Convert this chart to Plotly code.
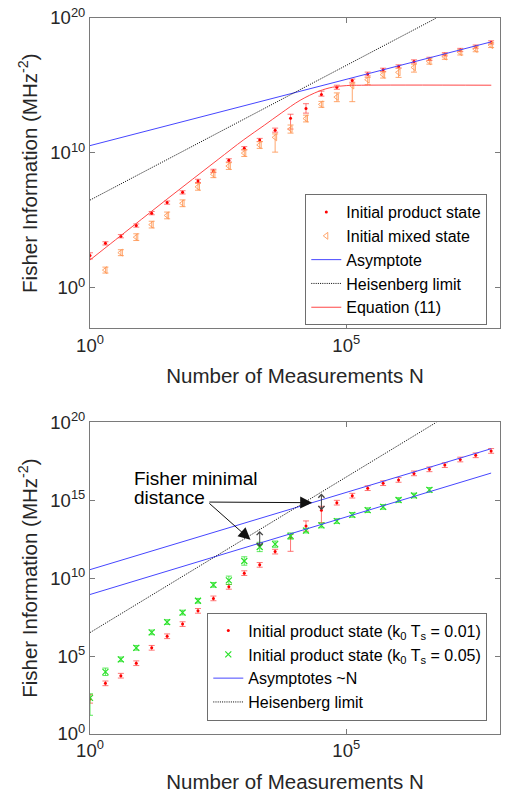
import numpy as np
import plotly.graph_objects as go

# ---------------- data ----------------
N = [1, 2, 4, 8, 16, 32, 64, 128, 256, 512, 1024, 2048, 4096, 8192, 16384,
     32768, 65536, 131072, 262144, 524288, 1048576, 2097152, 4194304,
     8388608, 16777216, 33554432, 67108864]

# top panel (log10 of Fisher information, MHz^-2)
prod_log = [2.40, 3.30, 3.83, 4.62, 5.54, 6.32, 7.08, 7.93, 8.67, 9.45, 10.35,
            10.96, 11.69, 12.57, 13.30, 14.33, 14.87, 15.36, 15.85, 16.16,
            16.41, 16.78, 16.97, 17.31, 17.63, 17.88, 18.19]
prod_up = [0.20, 0.12, 0.12, 0.12, 0.12, 0.12, 0.12, 0.12, 0.12, 0.12, 0.12,
           0.12, 0.15, 0.30, 0.35, 0.25, 0.15, 0.12, 0.14, 0.12, 0.12, 0.12,
           0.12, 0.12, 0.12, 0.12, 0.12]
prod_dn = [0.25, 0.12, 0.12, 0.12, 0.12, 0.12, 0.12, 0.12, 0.12, 0.12, 0.12,
           0.12, 0.15, 0.80, 0.35, 0.12, 0.15, 0.12, 0.14, 0.12, 0.12, 0.12,
           0.12, 0.12, 0.12, 0.12, 0.12]

mixed_log = [None, 1.32, 2.61, 3.76, 4.69, 5.37, 6.27, 7.49, 8.42, 9.03, 9.99,
             10.59, 11.16, 11.77, 12.55, 13.60, 14.14, 15.00, 15.43, 15.80,
             15.97, 16.34, 16.78, 17.14, 17.46, 17.70, 17.99]
mixed_up = [0, 0.22, 0.22, 0.25, 0.25, 0.25, 0.25, 0.25, 0.25, 0.25, 0.25,
            0.25, 0.25, 0.30, 0.25, 0.22, 0.31, 0.12, 0.17, 0.20, 0.32, 0.24,
            0.20, 0.20, 0.20, 0.20, 0.18]
mixed_dn = [0, 0.22, 0.22, 0.25, 0.25, 0.25, 0.25, 0.25, 0.25, 0.25, 0.25,
            0.25, 1.10, 0.30, 0.25, 0.22, 0.34, 1.20, 0.37, 0.25, 0.37, 0.35,
            0.20, 0.20, 0.20, 0.20, 0.18]

asym_N = [1, 67108864]
asym_F = [3.5e10, 1.7e18]

heis_N = [1, 5.75e6]
heis_F = [3.2e6, 1.0e20]

eq11_log10N = [0.0, 0.5, 1.0, 1.5, 2.0, 2.5, 3.0, 3.4, 3.73, 4.1, 4.47, 4.73,
               5.0, 5.3, 7.83]
eq11_log10F = [2.07, 3.57, 5.07, 6.57, 8.05, 9.52, 10.98, 12.05, 12.95, 13.9,
               14.58, 14.87, 14.99, 15.02, 15.02]

# bottom panel
k001_log = [2.25, 3.25, 3.74, 4.54, 5.53, 6.27, 7.05, 7.90, 8.70, 9.44, 10.32,
            10.85, 11.70, 12.60, 13.34, 14.36, 14.84, 15.29, 15.77, 16.09,
            16.30, 16.72, 16.98, 17.25, 17.61, 17.88, 18.16]
k001_up = [0.27, 0.15, 0.15, 0.15, 0.15, 0.15, 0.15, 0.15, 0.15, 0.15, 0.15,
           0.15, 0.15, 0.20, 0.33, 0.25, 0.15, 0.15, 0.15, 0.15, 0.15, 0.15,
           0.15, 0.15, 0.15, 0.15, 0.15]
k001_dn = [0.27, 0.15, 0.15, 0.15, 0.15, 0.15, 0.15, 0.15, 0.15, 0.15, 0.15,
           0.15, 0.15, 0.88, 0.33, 0.80, 0.15, 0.15, 0.15, 0.15, 0.15, 0.15,
           0.15, 0.15, 0.15, 0.15, 0.15]

k005_log = [2.32, 3.99, 4.79, 5.53, 6.52, 7.18, 7.79, 8.55, 9.57, 9.86, 11.10,
            12.00, 12.18, 12.70, 13.05, 13.38, 13.66, 14.06, 14.36, 14.57,
            15.01, 15.30, 15.66]
k005_up = [0.26, 0.24, 0.15, 0.15, 0.15, 0.15, 0.15, 0.15, 0.15, 0.27, 0.27,
           0.30, 0.20, 0.20, 0.15, 0.15, 0.15, 0.15, 0.15, 0.15, 0.15, 0.15,
           0.15]
k005_dn = [1.12, 0.24, 0.15, 0.15, 0.15, 0.15, 0.15, 0.15, 0.15, 0.27, 0.27,
           0.30, 0.20, 0.20, 0.15, 0.15, 0.15, 0.15, 0.15, 0.15, 0.15, 0.15,
           0.15]

asym_hi_N = [1, 67108864]
asym_hi_F = [3.5e10, 2.0e18]
asym_lo_N = [1, 67108864]
asym_lo_F = [8.9e8, 5.5e16]

# indices (into N) where the "Fisher minimal distance" double arrows are drawn
dist_idx_005 = 11
dist_idx_001 = 15

y_top_exp = [0, 10, 20]
y_bot_exp = [0, 5, 10, 15, 20]
x_exp = [0, 5]

# ---------------- helpers ----------------
def vals_err(logs, up, dn):
    v, p, m = [], [], []
    for l, u, d in zip(logs, up, dn):
        if l is None:
            v.append(None); p.append(None); m.append(None)
        else:
            c = 10.0 ** l
            v.append(c); p.append(10.0 ** (l + u) - c); m.append(c - 10.0 ** (l - d))
    return v, p, m

FONT = "Liberation Sans, Arial, sans-serif"
TXT = "#262626"
AX = "#7a7a7a"
RED = "#ff0000"
RED_ERR = "rgba(255,60,60,0.7)"
ORANGE = "rgba(255,150,85,0.85)"
GREEN = "rgb(40,225,40)"
GREEN_ERR = "rgba(40,225,40,0.75)"
BLUE = "rgb(70,70,255)"
RED_LINE = "rgb(255,70,70)"
DOT = "1px,1.2px"

fig = go.Figure()

# ---- top panel ----
v, p, m = vals_err(prod_log, prod_up, prod_dn)
fig.add_trace(go.Scatter(
    x=N, y=v, mode="markers", name="Initial product state",
    marker=dict(symbol="circle", size=3, color=RED),
    error_y=dict(type="data", symmetric=False, array=p, arrayminus=m,
                 color=RED_ERR, thickness=1, width=3),
    xaxis="x", yaxis="y", legend="legend"))

v, p, m = vals_err(mixed_log, mixed_up, mixed_dn)
fig.add_trace(go.Scatter(
    x=N, y=v, mode="markers", name="Initial mixed state",
    marker=dict(symbol="triangle-left-open", size=6, color=ORANGE,
                line=dict(width=1)),
    error_y=dict(type="data", symmetric=False, array=p, arrayminus=m,
                 color=ORANGE, thickness=1, width=3),
    xaxis="x", yaxis="y", legend="legend"))

fig.add_trace(go.Scatter(
    x=asym_N, y=asym_F, mode="lines", name="Asymptote",
    line=dict(color=BLUE, width=1), xaxis="x", yaxis="y", legend="legend"))

fig.add_trace(go.Scatter(
    x=heis_N, y=heis_F, mode="lines", name="Heisenberg limit",
    line=dict(color="black", width=1, dash=DOT),
    xaxis="x", yaxis="y", legend="legend"))

fig.add_trace(go.Scatter(
    x=[10.0 ** a for a in eq11_log10N], y=[10.0 ** b for b in eq11_log10F],
    mode="lines", name="Equation (11)", line=dict(color=RED_LINE, width=1, shape="spline"),
    xaxis="x", yaxis="y", legend="legend"))

# ---- bottom panel ----
v, p, m = vals_err(k001_log, k001_up, k001_dn)
fig.add_trace(go.Scatter(
    x=N, y=v, mode="markers",
    name="Initial product state (k<sub>0</sub> T<sub>s</sub> = 0.01)",
    marker=dict(symbol="circle", size=3, color=RED),
    error_y=dict(type="data", symmetric=False, array=p, arrayminus=m,
                 color=RED_ERR, thickness=1, width=3),
    xaxis="x2", yaxis="y2", legend="legend2"))

v, p, m = vals_err(k005_log, k005_up, k005_dn)
fig.add_trace(go.Scatter(
    x=N[:len(k005_log)], y=v, mode="markers",
    name="Initial product state (k<sub>0</sub> T<sub>s</sub> = 0.05)",
    marker=dict(symbol="x-thin", size=6, color=GREEN,
                line=dict(width=1.2, color=GREEN)),
    error_y=dict(type="data", symmetric=False, array=p, arrayminus=m,
                 color=GREEN_ERR, thickness=1, width=3),
    xaxis="x2", yaxis="y2", legend="legend2"))

fig.add_trace(go.Scatter(
    x=asym_hi_N, y=asym_hi_F, mode="lines", name="Asymptotes ~N",
    line=dict(color=BLUE, width=1), xaxis="x2", yaxis="y2", legend="legend2"))
fig.add_trace(go.Scatter(
    x=asym_lo_N, y=asym_lo_F, mode="lines", name="Asymptotes ~N",
    line=dict(color=BLUE, width=1), xaxis="x2", yaxis="y2",
    legend="legend2", showlegend=False))
fig.add_trace(go.Scatter(
    x=heis_N, y=heis_F, mode="lines", name="Heisenberg limit",
    line=dict(color="black", width=1, dash=DOT),
    xaxis="x2", yaxis="y2", legend="legend2"))

# ---- annotations (bottom panel) ----
def heis_log_at(n):
    return float(np.interp(np.log10(n), np.log10(heis_N), np.log10(heis_F)))

annotations = []
tail_x, tail_y = 2.30, 14.88
for idx, logs in ((dist_idx_001, k001_log), (dist_idx_005, k005_log)):
    lx = float(np.log10(N[idx]))
    top = heis_log_at(N[idx])
    bot = logs[idx]
    annotations.append(dict(
        x=lx, y=bot, ax=lx, ay=top, xref="x2", yref="y2", axref="x2", ayref="y2",
        showarrow=True, arrowhead=4, startarrowhead=4, arrowside="end+start",
        arrowsize=1.2, startarrowsize=1.2, arrowwidth=1, arrowcolor="#444444", text=""))
    annotations.append(dict(
        x=lx - 0.18, y=(top + bot) / 2 - 0.1, ax=tail_x, ay=tail_y,
        xref="x2", yref="y2", axref="x2", ayref="y2",
        showarrow=True, arrowhead=2, arrowsize=2.4, arrowwidth=1,
        arrowcolor="#111111", text=""))
annotations.append(dict(x=0.81, y=16.4, xref="x2", yref="y2", text="Fisher minimal",
                        showarrow=False, xanchor="left", yanchor="middle",
                        font=dict(size=19, color="black", family=FONT)))
annotations.append(dict(x=0.81, y=15.15, xref="x2", yref="y2", text="distance",
                        showarrow=False, xanchor="left", yanchor="middle",
                        font=dict(size=19, color="black", family=FONT)))

def sup(e):
    return "10<sup>%d</sup>" % e

axis_common = dict(type="log", showgrid=False, zeroline=False, showline=True,
                   linecolor=AX, linewidth=1, mirror="ticks", ticks="inside",
                   ticklen=5, tickcolor=AX, tickfont=dict(size=18.5, color=TXT, family=FONT))

fig.update_layout(
    width=506, height=802, margin=dict(l=90, r=5, t=9, b=68),
    paper_bgcolor="white", plot_bgcolor="white",
    font=dict(family=FONT, color=TXT),
    xaxis=dict(axis_common, domain=[0, 1], anchor="y", range=[0, 8],
               tickvals=[10.0 ** e for e in x_exp], ticktext=[sup(e) for e in x_exp],
               title=dict(text="Number of Measurements N", font=dict(size=20.5, color=TXT), standoff=14)),
    yaxis=dict(axis_common, domain=[0.5665, 1], anchor="x", range=[-3, 20],
               tickvals=[10.0 ** e for e in y_top_exp], ticktext=[sup(e) for e in y_top_exp],
               title=dict(text="Fisher Information (MHz<sup>-2</sup>)", font=dict(size=20.5, color=TXT), standoff=7)),
    xaxis2=dict(axis_common, domain=[0, 1], anchor="y2", range=[0, 8],
                tickvals=[10.0 ** e for e in x_exp], ticktext=[sup(e) for e in x_exp],
                title=dict(text="Number of Measurements N", font=dict(size=20.5, color=TXT), standoff=14)),
    yaxis2=dict(axis_common, domain=[0, 0.4354], anchor="x2", range=[0, 20],
                tickvals=[10.0 ** e for e in y_bot_exp], ticktext=[sup(e) for e in y_bot_exp],
                title=dict(text="Fisher Information (MHz<sup>-2</sup>)", font=dict(size=20.5, color=TXT), standoff=7)),
    legend=dict(x=0.969, xanchor="right", y=0.754, yanchor="top", bgcolor="white",
                bordercolor="#6e6e6e", borderwidth=1, font=dict(size=16, color="black"),
                tracegroupgap=0),
    legend2=dict(x=0.969, xanchor="right", y=0.1695, yanchor="top", bgcolor="white",
                 bordercolor="#6e6e6e", borderwidth=1, font=dict(size=16, color="black"),
                 tracegroupgap=0),
    annotations=annotations,
    showlegend=True,
)

fig.write_html("out.html")
